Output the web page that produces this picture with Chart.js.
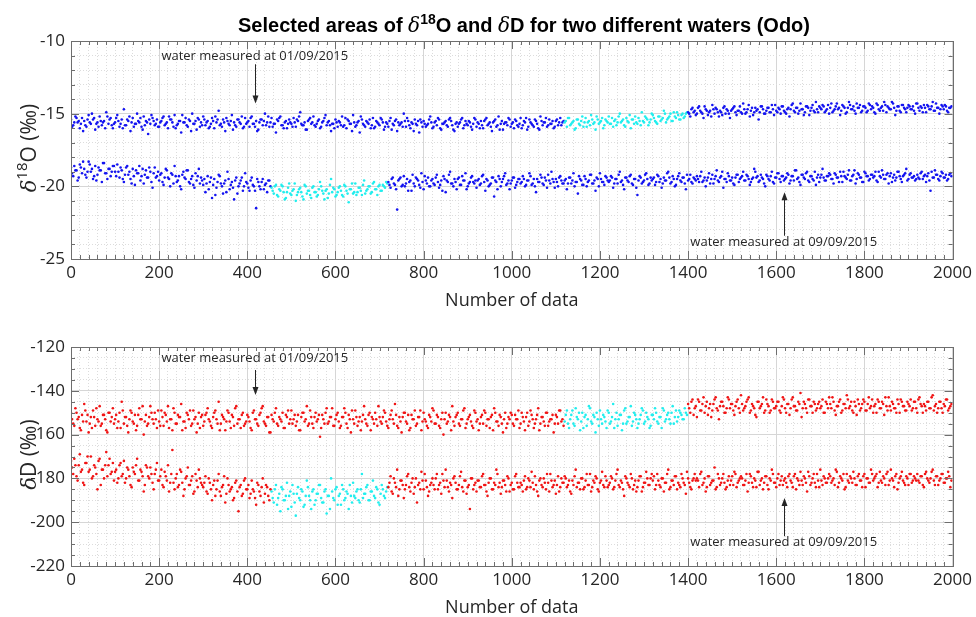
<!DOCTYPE html>
<html>
<head>
<meta charset="utf-8">
<title>Selected areas of d18O and dD (Odo)</title>
<script src="https://cdn.jsdelivr.net/npm/chart.js@4.4.1/dist/chart.umd.min.js"></script>
<style>
  body { margin: 0; background: #fff; }
  #wrap { position: relative; width: 976px; height: 617px; }
  canvas { position: absolute; left: 0; }
  #top { top: 0; }
  #bottom { top: 310px; }
</style>
</head>
<body>
<div id="wrap">
  <canvas id="top" width="976" height="310"></canvas>
  <canvas id="bottom" width="976" height="307"></canvas>
</div>
<script>
// each array holds one sample every 5 records; the second pass is shifted by 2.5
const dataStep = 5;
const secondPassOffset = 2.5;

const xTickLabels = [0, 200, 400, 600, 800, 1000, 1200, 1400, 1600, 1800, 2000];
const o18TickLabels = [-25, -20, -15, -10];
const dDTickLabels = [-220, -200, -180, -160, -140, -120];

// x ranges drawn in cyan (selected areas)
const water1Selected = [1120, 1400];
const water2Selected = [455, 720];

// d18O, water measured at 01/09/2015
const o18Water1 = [
  -15.4,-15.8,-15.2,-15.6,-16.0,-15.3,-15.5,-15.9,-15.1,-15.7,-15.4,-16.1,-15.6,-15.2,-15.8,-15.5,-14.9,-15.7,-15.3,-16.0,
  -15.6,-15.1,-15.9,-15.4,-14.7,-15.8,-15.5,-16.2,-15.3,-15.7,-15.0,-15.6,-15.9,-15.2,-15.5,-16.4,-15.7,-15.3,-15.8,-15.4,
  -15.9,-15.5,-15.2,-15.7,-16.0,-15.4,-15.6,-15.1,-15.8,-15.5,-16.3,-15.6,-15.3,-15.9,-15.5,-15.0,-15.7,-16.1,-15.4,-15.6,
  -15.2,-15.8,-15.5,-15.9,-15.3,-16.0,-15.6,-14.8,-15.7,-15.4,-16.2,-15.5,-15.8,-15.1,-15.6,-15.9,-15.4,-15.7,-16.0,-15.3,
  -15.6,-15.9,-15.2,-15.7,-15.5,-16.1,-15.4,-15.8,-15.0,-15.6,-15.9,-15.3,-15.7,-16.3,-15.5,-15.2,-15.8,-15.6,-16.0,-15.4,
  -15.7,-15.3,-15.9,-15.5,-14.9,-15.8,-15.6,-16.1,-15.4,-15.7,-15.2,-15.9,-15.5,-16.0,-15.6,-15.3,-15.8,-15.5,-16.2,-15.7,
  -15.4,-15.9,-15.6,-15.2,-15.8,-16.0,-15.5,-15.7,-15.1,-15.9,-15.6,-16.3,-15.4,-15.8,-15.5,-15.7,-16.0,-15.3,-15.9,-15.6,
  -15.8,-15.4,-16.1,-15.6,-15.9,-15.3,-15.7,-15.5,-16.2,-15.8,-15.6,-15.0,-15.9,-15.5,-16.0,-15.7,-15.4,-15.8,-16.3,-15.6,
  -15.5,-15.9,-15.7,-15.2,-16.0,-15.6,-15.8,-15.4,-16.1,-15.7,-15.5,-15.9,-15.3,-15.8,-16.2,-15.6,-15.7,-15.4,-16.0,-15.5,
  -15.8,-15.6,-16.1,-15.3,-15.9,-15.7,-15.5,-16.0,-15.4,-15.8,-15.6,-16.2,-15.5,-15.9,-15.2,-15.7,-16.1,-15.6,-15.8,-15.4,
  -15.7,-16.0,-15.5,-15.9,-15.3,-15.8,-15.6,-16.1,-15.4,-15.7,-15.9,-15.5,-16.0,-15.2,-15.8,-15.6,-15.9,-15.4,-15.7,-16.0,-15.5,-15.8,-15.3,-15.6,
  -15.6,-15.9,-15.3,-15.7,-15.5,-16.0,-15.4,-15.8,-15.2,-15.6,-15.9,-15.5,-15.1,-15.7,-16.1,-15.4,-15.6,-15.3,-15.8,-15.5,
  -15.2,-15.7,-15.9,-15.4,-15.6,-15.0,-15.5,-15.8,-15.3,-15.6,-16.0,-15.4,-15.2,-15.7,-15.5,-14.9,-15.6,-15.3,-15.8,-15.4,
  -15.1,-15.5,-15.7,-15.2,-15.4,-14.8,-15.6,-15.3,-15.0,-15.5,-15.2,-14.9,-15.4,-15.1,-15.3,-15.0,
  -14.9,-15.2,-14.6,-14.8,-15.0,-14.5,-14.9,-15.3,-14.7,-15.1,-14.8,-14.4,-15.0,-14.7,-15.2,-14.9,-14.6,-15.0,-14.8,-15.3,
  -14.7,-14.5,-15.1,-14.8,-14.9,-14.3,-15.0,-14.7,-15.2,-14.6,-14.9,-14.8,-15.4,-14.5,-14.7,-15.0,-14.6,-14.9,-14.4,-15.1,
  -14.8,-14.6,-15.0,-14.5,-14.9,-14.7,-15.2,-14.4,-14.8,-14.6,-15.0,-14.3,-14.7,-14.9,-14.5,-15.1,-14.6,-14.8,-14.2,-14.9,
  -14.6,-14.4,-14.9,-14.7,-15.0,-14.3,-14.8,-14.5,-14.7,-15.1,-14.4,-14.6,-14.9,-14.2,-14.7,-14.5,-15.0,-14.6,-14.4,-14.8,
  -14.5,-14.9,-14.3,-14.7,-14.6,-15.0,-14.4,-14.8,-14.5,-14.2,-14.9,-14.6,-14.7,-14.3,-15.1,-14.5,-14.8,-14.4,-14.6,-14.9,
  -14.4,-14.7,-14.5,-15.0,-14.3,-14.8,-14.6,-14.4,-14.9,-14.5,-14.7,-14.2,-14.8,-14.6,-15.0,-14.4,-14.7,-14.5,-14.9,-14.6
];
const o18Water1b = [
  -15.9,-15.6,-15.3,-15.5,-15.7,-16.2,-15.8,-15.4,-15.6,-15.0,-15.3,-15.7,-15.9,-15.5,-15.6,-16.0,-15.2,-15.4,-15.8,-15.7,
  -15.3,-15.5,-15.7,-16.0,-15.8,-15.4,-15.2,-15.6,-15.9,-15.7,-15.5,-15.3,-16.1,-15.8,-15.6,-15.4,-15.1,-15.5,-15.7,-15.9,
  -15.6,-15.3,-15.8,-15.6,-15.2,-15.4,-15.9,-16.0,-15.7,-15.5,-15.1,-15.6,-15.8,-15.4,-16.2,-15.7,-15.5,-15.3,-15.9,-15.8,
  -15.4,-15.6,-16.0,-15.7,-15.5,-15.2,-15.4,-15.8,-15.9,-15.6,-15.3,-15.7,-15.5,-16.1,-15.8,-15.4,-15.6,-15.2,-15.9,-15.7,
  -15.5,-15.3,-15.7,-15.9,-16.2,-15.6,-15.4,-15.5,-15.8,-15.2,-15.6,-15.9,-15.7,-15.4,-15.3,-15.8,-16.0,-15.5,-15.7,-15.6,
  -15.9,-15.6,-15.4,-15.2,-15.7,-15.8,-16.1,-15.5,-15.3,-15.6,-15.8,-15.7,-15.4,-15.9,-15.5,-15.1,-15.6,-15.8,-15.7,-16.0,
  -15.6,-15.5,-15.8,-15.9,-15.3,-15.4,-15.7,-16.2,-15.6,-15.8,-15.5,-15.2,-15.7,-15.9,-15.6,-15.4,-15.8,-16.0,-15.5,-15.7,
  -15.3,-15.6,-15.9,-15.7,-15.5,-16.1,-15.8,-15.4,-15.6,-15.7,-15.9,-15.5,-15.3,-15.8,-15.6,-16.2,-15.7,-15.5,-15.4,-15.9,
  -15.7,-15.8,-15.4,-15.6,-15.9,-15.5,-15.3,-16.0,-15.7,-15.6,-15.8,-15.4,-15.5,-16.1,-15.7,-15.9,-15.6,-15.3,-15.8,-15.7,
  -15.5,-15.9,-15.7,-15.4,-15.6,-16.0,-15.8,-15.5,-15.3,-15.7,-15.9,-15.6,-15.4,-15.8,-16.1,-15.5,-15.7,-15.6,-15.3,-15.9,
  -15.6,-15.4,-15.8,-15.7,-16.0,-15.5,-15.3,-15.9,-15.6,-15.8,-15.4,-15.7,-16.1,-15.5,-15.6,-15.3,-15.8,-15.7,-15.5,-15.9,-15.4,-15.6,-15.8,-15.5,
  -15.5,-15.3,-15.8,-15.6,-16.1,-15.4,-15.7,-15.5,-15.9,-15.3,-15.6,-15.8,-15.4,-15.6,-15.2,-15.7,-15.5,-16.0,-15.4,-15.6,
  -15.7,-15.3,-15.5,-15.8,-15.2,-15.6,-15.4,-15.9,-15.5,-15.1,-15.4,-15.7,-15.6,-15.3,-15.8,-15.5,-15.2,-15.4,-15.6,-15.0,
  -15.3,-15.6,-15.2,-15.5,-15.3,-15.0,-15.4,-15.2,-15.5,-14.9,-15.3,-15.1,-15.4,-15.0,-15.2,-14.9,
  -15.0,-14.7,-14.9,-15.1,-14.6,-14.8,-15.0,-14.5,-14.8,-14.9,-15.2,-14.7,-14.6,-14.9,-14.8,-15.1,-14.5,-14.7,-15.0,-14.8,
  -14.6,-14.9,-14.8,-14.5,-15.0,-14.7,-14.9,-14.4,-14.8,-15.1,-14.6,-14.7,-14.9,-14.5,-15.0,-14.8,-14.6,-14.9,-14.7,-14.4,
  -14.9,-14.7,-14.5,-14.8,-15.0,-14.6,-14.7,-14.3,-14.9,-14.6,-14.8,-14.7,-15.1,-14.5,-14.6,-14.8,-14.4,-14.9,-14.7,-14.5,
  -14.7,-14.5,-14.8,-14.4,-14.6,-14.9,-14.7,-14.3,-14.6,-14.8,-14.5,-15.0,-14.6,-14.4,-14.7,-14.8,-14.3,-14.6,-14.9,-14.5,
  -14.6,-14.8,-14.4,-14.5,-14.9,-14.3,-14.7,-14.6,-14.8,-14.4,-14.5,-14.7,-14.2,-14.6,-14.8,-14.5,-14.9,-14.4,-14.7,-14.6,
  -14.5,-14.7,-14.8,-14.3,-14.6,-14.5,-14.9,-14.6,-14.4,-14.7,-14.5,-14.8,-14.3,-14.6,-14.7,-14.5,-14.4,-14.8,-14.6,-14.5
];

// d18O, water measured at 09/09/2015
const o18Water2 = [
  -18.7,-19.3,-18.9,-19.6,-18.5,-19.1,-18.8,-19.4,-18.3,-19.0,-19.5,-18.6,-19.2,-18.9,-19.7,-18.4,-19.1,-18.8,-19.3,-18.6,
  -19.0,-18.5,-19.4,-18.9,-19.7,-18.7,-19.2,-19.5,-18.8,-19.9,-19.1,-18.6,-19.3,-19.8,-18.9,-19.4,-19.0,-20.1,-18.7,-19.3,
  -19.6,-19.1,-19.9,-18.8,-19.4,-20.0,-19.2,-18.6,-19.7,-19.3,-20.2,-19.0,-19.5,-18.9,-19.8,-19.3,-20.1,-19.6,-18.8,-19.4,
  -19.9,-20.4,-19.3,-19.7,-20.8,-19.5,-20.1,-19.2,-19.8,-20.5,-19.6,-19.0,-20.2,-19.7,-20.9,-19.4,-20.0,-19.6,-20.3,-19.1,
  -19.8,-20.3,-19.4,-20.0,-21.5,-19.7,-20.2,-19.5,-19.9,-20.4,-19.6,
  -20.1,-20.5,-19.9,-20.7,-20.3,-20.0,-20.9,-20.4,-19.8,-20.6,-20.2,-21.0,-20.4,-20.1,-20.7,-19.9,-20.5,-20.3,-20.8,-20.0,
  -20.4,-20.6,-19.7,-20.3,-20.9,-20.2,-20.5,-19.5,-20.1,-20.7,-20.4,-20.0,-20.6,-19.9,-20.3,-21.1,-20.2,-20.5,-19.8,-20.4,
  -20.1,-20.6,-19.6,-20.3,-20.0,-20.5,-19.8,-20.2,-20.6,-19.9,-20.3,-20.0,-19.7,
  -19.7,-20.1,-19.4,-19.9,-21.6,-19.5,-20.0,-19.3,-19.8,-20.3,-19.6,-19.2,-20.0,-19.5,-19.9,-19.1,-20.2,-19.6,-19.4,-20.0,
  -19.5,-19.9,-19.2,-20.1,-19.6,-19.3,-20.4,-19.7,-19.0,-19.8,-19.5,-20.2,-19.4,-19.9,-19.6,-19.1,-20.0,-19.7,-19.3,-19.8,
  -20.1,-19.5,-19.8,-19.2,-20.3,-19.6,-19.9,-19.4,-20.7,-19.7,-19.3,-20.0,-19.5,-19.1,-19.8,-20.2,-19.6,-19.4,-19.9,-19.5,
  -19.8,-19.3,-20.0,-19.6,-19.1,-19.9,-19.5,-20.4,-19.7,-19.2,-19.8,-19.4,-20.1,-19.6,-19.0,-19.7,-19.5,-20.0,-19.3,-19.8,
  -19.6,-20.2,-19.4,-19.8,-19.1,-19.7,-20.5,-19.5,-19.9,-19.3,-20.0,-19.6,-19.2,-19.8,-20.3,-19.5,-19.1,-19.7,-19.9,-19.4,
  -19.7,-19.3,-20.1,-19.5,-19.8,-19.0,-19.6,-20.2,-19.4,-19.7,-19.2,-19.9,-19.5,-20.6,-19.3,-19.8,-19.6,-19.1,-19.9,-19.4,
  -19.5,-19.9,-19.2,-19.7,-20.1,-19.4,-19.6,-19.0,-19.8,-19.3,-20.0,-19.5,-19.1,-19.7,-19.4,-20.2,-19.6,-19.2,-19.8,-19.5,
  -19.3,-19.7,-19.0,-19.6,-20.0,-19.4,-19.8,-19.2,-19.5,-18.9,-19.7,-19.3,-20.1,-19.5,-19.1,-19.6,-19.4,-19.9,-19.2,-19.7,
  -19.4,-19.0,-19.6,-19.3,-19.9,-19.5,-18.8,-19.4,-19.7,-19.2,-19.5,-20.0,-19.3,-19.6,-19.0,-19.8,-19.4,-19.1,-19.7,-19.3,
  -19.5,-19.1,-19.8,-19.3,-19.6,-18.9,-19.4,-19.9,-19.2,-19.5,-19.0,-19.7,-19.3,-19.6,-19.9,-19.2,-19.4,-18.8,-19.6,-19.3,
  -19.1,-19.5,-19.8,-19.2,-19.4,-19.0,-19.7,-19.3,-19.5,-18.9,-19.6,-19.2,-19.8,-19.1,-19.4,-19.7,-19.0,-19.3,-19.6,-19.2,
  -19.4,-19.0,-19.7,-19.3,-18.9,-19.5,-19.2,-19.8,-19.1,-19.4,-19.6,-19.0,-19.3,-19.7,-19.2,-18.8,-19.5,-19.1,-19.4,-19.6,
  -19.2,-19.5,-19.0,-19.3,-19.7,-19.1,-20.3,-19.4,-18.9,-19.2,-19.6,-19.0,-19.4,-19.2,-19.5,-19.1
];
const o18Water2b = [
  -19.1,-18.6,-18.9,-19.4,-18.7,-18.3,-19.2,-19.0,-18.5,-18.8,-19.3,-19.6,-18.7,-18.9,-18.4,-19.1,-19.5,-18.8,-19.0,-18.6,
  -19.3,-19.0,-18.7,-19.5,-19.2,-18.6,-19.0,-19.8,-19.3,-18.9,-19.1,-19.6,-18.8,-19.2,-19.4,-18.7,-19.7,-19.1,-19.4,-19.0,
  -19.2,-19.7,-19.4,-18.9,-19.5,-19.1,-19.8,-19.3,-19.6,-20.0,-19.2,-19.4,-18.9,-19.7,-19.5,-19.9,-19.1,-19.3,-19.8,-19.6,
  -19.5,-19.8,-20.2,-19.4,-19.9,-20.6,-19.7,-19.3,-20.0,-19.8,-20.4,-19.5,-19.9,-20.1,-19.6,-20.5,-19.8,-19.4,-20.0,-19.7,
  -20.1,-19.6,-19.9,-20.3,-19.5,-20.0,-19.7,-20.2,-19.8,-19.6,-20.0,
  -20.3,-20.0,-20.6,-20.2,-19.9,-20.4,-20.8,-20.1,-20.5,-20.3,-19.8,-20.6,-20.2,-20.4,-20.9,-20.0,-20.3,-20.6,-20.1,-20.4,
  -20.7,-20.2,-20.0,-20.5,-20.3,-20.8,-19.9,-20.4,-20.2,-20.6,-20.1,-20.3,-20.7,-20.0,-20.5,-20.2,-19.8,-20.4,-20.6,-20.1,
  -20.3,-19.9,-20.5,-20.2,-20.0,-20.4,-19.7,-20.2,-20.0,-20.3,-19.9,-20.1,-19.8,
  -19.9,-19.5,-19.8,-20.2,-19.6,-19.4,-19.9,-20.0,-19.5,-19.7,-20.3,-19.8,-19.4,-19.6,-20.1,-19.7,-19.3,-19.8,-20.0,-19.6,
  -19.8,-19.4,-19.7,-19.9,-20.3,-19.5,-19.6,-19.2,-19.8,-20.0,-19.7,-19.5,-19.9,-19.3,-19.6,-20.2,-19.8,-19.4,-19.7,-19.6,
  -19.6,-19.9,-19.3,-19.7,-19.5,-20.0,-19.8,-19.4,-19.6,-20.2,-19.5,-19.7,-19.3,-19.9,-19.6,-19.8,-19.4,-20.1,-19.7,-19.5,
  -19.7,-19.5,-19.9,-19.6,-19.3,-19.8,-20.0,-19.5,-19.7,-19.4,-19.9,-19.6,-19.2,-19.8,-19.5,-20.1,-19.7,-19.4,-19.6,-19.8,
  -19.5,-19.8,-19.4,-19.6,-20.0,-19.7,-19.3,-19.6,-19.9,-19.5,-19.7,-19.2,-19.8,-19.6,-19.4,-20.0,-19.5,-19.7,-19.3,-19.6,
  -19.6,-19.4,-19.8,-19.5,-19.2,-19.7,-19.9,-19.4,-19.6,-19.3,-19.8,-19.5,-20.1,-19.6,-19.4,-19.7,-19.2,-19.5,-19.8,-19.6,
  -19.4,-19.7,-19.3,-19.5,-19.8,-19.6,-19.1,-19.4,-19.7,-19.5,-19.9,-19.3,-19.6,-19.4,-19.8,-19.2,-19.5,-19.7,-19.4,-19.6,
  -19.5,-19.3,-19.7,-19.4,-19.6,-19.1,-19.5,-19.8,-19.3,-19.6,-19.4,-19.0,-19.5,-19.7,-19.3,-19.6,-19.8,-19.4,-19.2,-19.5,
  -19.3,-19.6,-19.2,-19.5,-19.7,-19.4,-19.0,-19.3,-19.6,-19.4,-19.8,-19.2,-19.5,-19.3,-19.7,-19.4,-19.1,-19.5,-19.3,-19.6,
  -19.4,-19.2,-19.6,-19.3,-18.9,-19.5,-19.7,-19.2,-19.4,-19.1,-19.6,-19.3,-19.5,-19.0,-19.4,-19.7,-19.2,-19.4,-19.6,-19.3,
  -19.2,-19.5,-19.1,-19.4,-19.7,-19.3,-19.0,-19.4,-19.2,-19.6,-19.3,-18.9,-19.5,-19.2,-19.4,-19.7,-19.1,-19.3,-19.5,-19.2,
  -19.3,-19.6,-19.0,-19.4,-19.2,-19.5,-19.1,-19.3,-19.7,-19.2,-19.4,-19.0,-19.5,-19.3,-19.1,-19.6,-19.2,-19.4,-19.3,-19.5,
  -19.4,-19.1,-19.5,-19.2,-19.3,-19.6,-19.0,-19.4,-19.2,-19.5,-19.3,-19.1,-19.4,-19.6,-19.2,-19.3
];

// dD, water measured at 01/09/2015
const dDWater1 = [
  -150,-155,-148,-153,-157,-151,-146,-154,-159,-152,-149,-156,-153,-147,-155,-151,-158,-150,-154,-148,
  -153,-157,-150,-145,-155,-152,-159,-149,-154,-151,-156,-148,-153,-160,-151,-155,-147,-153,-150,-157,
  -154,-149,-156,-151,-147,-153,-158,-150,-155,-152,-146,-154,-157,-151,-149,-155,-153,-159,-150,-152,
  -156,-151,-148,-154,-157,-150,-153,-145,-155,-152,-158,-149,-154,-151,-156,-147,-153,-157,-150,-155,
  -151,-154,-158,-149,-153,-156,-150,-147,-155,-152,-159,-151,-154,-148,-156,-153,-150,-157,-152,-155,
  -149,-153,-156,-151,-158,-150,-154,-147,-155,-152,-157,-150,-153,-161,-151,-155,-148,-154,-152,-156,
  -153,-150,-157,-152,-148,-155,-151,-159,-153,-149,-156,-152,-154,-147,-155,-151,-158,-153,-150,-156,
  -152,-155,-149,-154,-157,-151,-153,-146,-156,-152,-159,-150,-154,-151,-157,-153,-149,-155,-152,-158,
  -150,-154,-157,-152,-148,-155,-151,-156,-153,-160,-150,-154,-152,-147,-156,-151,-155,-153,-149,-157,
  -153,-151,-156,-149,-154,-158,-152,-155,-150,-153,-157,-151,-148,-154,-156,-152,-159,-150,-155,-153,
  -151,-156,-153,-149,-155,-152,-158,-150,-154,-151,-157,-153,-148,-155,-152,-156,-150,-154,-153,-159,-151,-155,-149,-153,
  -154,-149,-157,-151,-155,-148,-153,-158,-150,-152,-156,-147,-154,-151,-159,-153,-149,-155,-152,-157,
  -150,-154,-146,-153,-156,-151,-158,-149,-155,-152,-147,-154,-151,-157,-153,-148,-155,-150,-153,-156,
  -151,-148,-154,-152,-157,-149,-153,-150,-155,-147,-152,-154,-149,-151,-153,-150,
  -146,-150,-144,-148,-152,-145,-149,-143,-147,-151,-146,-149,-144,-148,-153,-145,-147,-150,-143,-148,
  -146,-151,-145,-148,-142,-149,-147,-144,-150,-146,-148,-152,-145,-147,-143,-149,-146,-150,-144,-148,
  -147,-145,-150,-143,-148,-146,-151,-144,-147,-149,-145,-141,-148,-146,-150,-144,-147,-145,-149,-146,
  -148,-144,-150,-146,-143,-148,-145,-151,-147,-144,-149,-146,-142,-148,-145,-150,-147,-144,-149,-146,
  -145,-149,-143,-147,-150,-146,-144,-148,-145,-151,-147,-143,-149,-146,-148,-144,-150,-145,-147,-149,
  -146,-144,-148,-145,-150,-143,-147,-146,-149,-145,-148,-142,-147,-150,-145,-148,-146,-144,-149,-147
];
const dDWater1b = [
  -153,-156,-150,-152,-158,-154,-149,-151,-155,-157,-152,-148,-154,-156,-151,-153,-159,-150,-152,-155,
  -151,-154,-157,-149,-152,-156,-153,-150,-155,-158,-151,-153,-147,-154,-156,-152,-150,-155,-153,-149,
  -156,-152,-150,-154,-157,-153,-148,-155,-151,-152,-158,-154,-150,-153,-156,-149,-152,-155,-157,-151,
  -154,-150,-153,-156,-152,-149,-155,-158,-151,-153,-154,-150,-157,-152,-148,-155,-153,-151,-156,-154,
  -152,-157,-150,-153,-155,-151,-148,-154,-156,-152,-159,-153,-150,-155,-152,-154,-157,-151,-149,-153,
  -155,-151,-154,-158,-152,-150,-153,-156,-149,-155,-152,-154,-151,-157,-153,-150,-155,-152,-148,-156,
  -151,-154,-156,-152,-150,-157,-153,-149,-155,-152,-154,-158,-151,-153,-156,-150,-152,-155,-153,-147,
  -154,-152,-150,-156,-153,-149,-155,-151,-157,-154,-152,-150,-155,-158,-151,-153,-156,-152,-149,-154,
  -153,-156,-151,-154,-149,-155,-152,-157,-150,-153,-155,-151,-158,-154,-152,-150,-156,-153,-148,-155,
  -152,-154,-157,-150,-153,-155,-151,-149,-156,-153,-152,-158,-150,-154,-151,-155,-153,-157,-152,-150,
  -155,-151,-153,-157,-150,-154,-152,-156,-149,-153,-155,-151,-158,-152,-154,-150,-156,-153,-151,-155,-152,-149,-154,-156,
  -151,-155,-153,-149,-156,-152,-150,-154,-157,-151,-153,-148,-155,-152,-150,-156,-153,-151,-154,-149,
  -155,-152,-157,-150,-153,-151,-155,-148,-154,-152,-156,-150,-153,-155,-151,-149,-154,-152,-157,-151,
  -153,-150,-155,-152,-148,-154,-151,-153,-150,-155,-149,-152,-150,-153,-148,-151,
  -148,-145,-151,-147,-144,-149,-146,-150,-145,-148,-152,-146,-143,-149,-147,-145,-150,-148,-144,-146,
  -149,-147,-144,-150,-146,-148,-145,-143,-149,-147,-151,-145,-148,-146,-150,-144,-147,-149,-145,-148,
  -145,-149,-147,-144,-150,-146,-148,-143,-147,-149,-146,-152,-145,-148,-144,-147,-150,-146,-148,-145,
  -147,-150,-145,-148,-146,-143,-149,-147,-145,-150,-146,-148,-144,-147,-149,-145,-151,-146,-148,-144,
  -149,-146,-148,-144,-147,-150,-145,-148,-146,-143,-149,-147,-145,-148,-150,-146,-144,-147,-149,-145,
  -147,-149,-145,-148,-144,-146,-150,-147,-145,-148,-143,-149,-146,-148,-145,-150,-147,-144,-148,-146
];

// dD, water measured at 09/09/2015
const dDWater2 = [
  -172,-178,-174,-181,-169,-176,-183,-173,-177,-170,-179,-175,-185,-171,-176,-180,-168,-174,-178,-173,
  -177,-182,-174,-179,-172,-180,-176,-183,-175,-178,-171,-181,-177,-186,-174,-179,-175,-182,-178,-173,
  -181,-176,-184,-179,-174,-182,-167,-185,-178,-183,-177,-188,-180,-175,-183,-179,-186,-181,-176,-182,
  -184,-179,-187,-182,-190,-181,-185,-178,-188,-183,-191,-180,-186,-184,-189,-181,-195,-183,-187,-180,
  -185,-189,-181,-186,-192,-183,-188,-180,-187,-184,-190,
  -186,-191,-183,-189,-195,-185,-190,-182,-188,-193,-187,-197,-184,-190,-186,-192,-181,-188,-194,-185,
  -190,-187,-183,-191,-186,-196,-188,-180,-189,-185,-192,-187,-183,-190,-186,-194,-188,-182,-189,-185,
  -191,-178,-187,-184,-190,-186,-181,-189,-185,-192,-183,-188,-186,
  -184,-179,-187,-182,-176,-185,-181,-189,-183,-178,-186,-180,-184,-191,-182,-177,-185,-181,-188,-183,
  -180,-185,-178,-183,-187,-181,-176,-184,-182,-189,-179,-185,-183,-177,-186,-181,-184,-194,-180,-183,
  -186,-181,-184,-178,-183,-188,-180,-185,-182,-176,-184,-187,-181,-183,-179,-186,-182,-185,-178,-184,
  -182,-186,-179,-184,-181,-177,-185,-183,-188,-180,-184,-182,-178,-186,-181,-183,-187,-179,-184,-182,
  -179,-184,-181,-187,-183,-176,-182,-185,-180,-184,-178,-183,-186,-181,-179,-185,-182,-177,-184,-181,
  -183,-179,-185,-181,-176,-184,-182,-188,-180,-183,-178,-185,-181,-184,-179,-186,-182,-177,-183,-180,
  -181,-185,-178,-183,-180,-186,-182,-176,-184,-181,-179,-185,-183,-178,-182,-187,-180,-184,-181,-178,
  -180,-184,-177,-182,-186,-179,-183,-181,-175,-184,-180,-182,-178,-185,-181,-183,-179,-177,-184,-181,
  -179,-183,-181,-186,-178,-182,-180,-184,-177,-181,-185,-179,-183,-180,-176,-182,-184,-178,-181,-183,
  -180,-184,-178,-182,-179,-185,-181,-177,-183,-180,-186,-179,-182,-178,-184,-181,-176,-183,-180,-182,
  -178,-182,-180,-176,-184,-179,-181,-185,-178,-182,-180,-177,-183,-179,-181,-184,-178,-180,-182,-176,
  -181,-179,-184,-177,-182,-180,-178,-183,-176,-181,-179,-185,-180,-177,-182,-179,-183,-178,-181,-180,
  -178,-182,-179,-184,-177,-181,-180,-176,-183,-179,-181,-178,-182,-180,-177,-184
];
const dDWater2b = [
  -175,-171,-179,-174,-177,-182,-173,-170,-176,-180,-174,-178,-172,-183,-176,-174,-179,-171,-177,-181,
  -176,-180,-173,-178,-182,-175,-179,-184,-177,-174,-181,-176,-179,-183,-175,-180,-178,-185,-176,-181,
  -179,-183,-177,-181,-186,-178,-182,-180,-184,-176,-182,-185,-179,-183,-181,-187,-178,-184,-180,-183,
  -182,-186,-180,-185,-183,-188,-181,-186,-184,-179,-187,-183,-185,-190,-182,-186,-184,-188,-181,-185,
  -183,-187,-185,-189,-182,-186,-184,-191,-183,-188,-185,
  -189,-185,-192,-187,-184,-190,-188,-194,-186,-183,-191,-187,-189,-185,-193,-188,-184,-190,-186,-192,
  -187,-183,-189,-191,-185,-188,-194,-186,-190,-184,-188,-192,-185,-189,-187,-183,-191,-188,-186,-190,
  -185,-189,-187,-183,-190,-186,-188,-184,-191,-187,-185,-189,-184,
  -182,-186,-180,-184,-188,-181,-183,-185,-179,-184,-182,-187,-180,-183,-185,-181,-178,-184,-186,-182,
  -183,-180,-185,-182,-178,-184,-181,-186,-183,-180,-182,-185,-179,-184,-181,-187,-183,-180,-185,-182,
  -181,-184,-179,-183,-186,-182,-180,-185,-183,-178,-182,-184,-181,-186,-180,-183,-185,-179,-182,-184,
  -183,-181,-185,-180,-184,-182,-179,-186,-181,-183,-180,-185,-182,-178,-184,-181,-183,-186,-180,-182,
  -180,-183,-186,-181,-179,-184,-182,-180,-185,-181,-183,-178,-184,-182,-180,-186,-181,-183,-179,-184,
  -182,-180,-184,-178,-183,-181,-185,-179,-182,-184,-180,-183,-186,-181,-179,-184,-182,-180,-183,-178,
  -179,-183,-181,-184,-180,-182,-178,-185,-181,-183,-179,-182,-184,-180,-183,-177,-182,-185,-180,-181,
  -181,-178,-183,-180,-184,-179,-182,-181,-185,-178,-183,-180,-182,-184,-179,-181,-183,-178,-182,-180,
  -180,-183,-178,-182,-179,-184,-181,-177,-183,-180,-182,-179,-185,-181,-178,-182,-180,-183,-179,-181,
  -182,-179,-181,-184,-178,-180,-183,-181,-179,-182,-177,-183,-180,-182,-178,-184,-181,-179,-182,-180,
  -179,-181,-183,-177,-182,-180,-178,-184,-181,-179,-182,-180,-183,-178,-181,-179,-184,-180,-182,-178,
  -180,-178,-182,-181,-179,-183,-177,-181,-180,-184,-178,-182,-179,-181,-183,-180,-178,-182,-179,-181,
  -181,-179,-183,-178,-180,-182,-177,-181,-179,-183,-180,-178,-182,-180,-179,-181
];

const BLUE = '#1414f0';
const RED = '#f01414';
const CYAN = '#22eeee';
const INK = '#262626';
const AXIS = '#6e6e6e';
const TICK_FONT = { family: '"Open Sans", sans-serif', size: 17 };

function series(values, offset, range, base) {
  const points = values.map((y, i) => ({ x: i * dataStep + offset, y: y }));
  return {
    data: points,
    pointBackgroundColor: points.map(p => (p.x >= range[0] && p.x < range[1]) ? CYAN : base),
    pointBorderWidth: 0,
    pointRadius: 1.3,
    showLine: false
  };
}

// text made of pieces so the superscripts and the italic delta can be set apart
function drawRich(ctx, parts, cx, baseline) {
  let width = 0;
  parts.forEach(p => { ctx.font = p.font; width += ctx.measureText(p.t).width; });
  let x = cx - width / 2;
  ctx.textAlign = 'left';
  ctx.textBaseline = 'alphabetic';
  parts.forEach(p => {
    ctx.font = p.font;
    ctx.fillText(p.t, x, baseline + (p.dy || 0));
    x += ctx.measureText(p.t).width;
  });
}

function arrow(ctx, x, y0, y1) {
  const dir = y1 > y0 ? 1 : -1;
  ctx.beginPath();
  ctx.moveTo(x, y0);
  ctx.lineTo(x, y1 - dir * 5);
  ctx.stroke();
  ctx.beginPath();
  ctx.moveTo(x, y1);
  ctx.lineTo(x - 3, y1 - dir * 8);
  ctx.lineTo(x + 3, y1 - dir * 8);
  ctx.closePath();
  ctx.fill();
}

function decorPlugin(panel) {
  return {
    id: 'decor',
    afterDraw(chart) {
      const ctx = chart.ctx;
      const area = chart.chartArea;
      const xs = chart.scales.x;
      const ys = chart.scales.y;
      ctx.save();

      // inward tick marks on all four sides
      ctx.strokeStyle = AXIS;
      ctx.lineWidth = 1;
      ctx.beginPath();
      xs.ticks.forEach(t => {
        const px = Math.round(xs.getPixelForValue(t.value)) + 0.5;
        const len = xTickLabels.includes(t.value) ? 8 : 4;
        ctx.moveTo(px, area.bottom); ctx.lineTo(px, area.bottom - len);
        ctx.moveTo(px, area.top); ctx.lineTo(px, area.top + len);
      });
      ys.ticks.forEach(t => {
        const py = Math.round(ys.getPixelForValue(t.value)) + 0.5;
        const len = panel.yLabels.includes(t.value) ? 8 : 4;
        ctx.moveTo(area.left, py); ctx.lineTo(area.left + len, py);
        ctx.moveTo(area.right, py); ctx.lineTo(area.right - len, py);
      });
      ctx.stroke();
      ctx.strokeRect(Math.round(area.left) + 0.5, Math.round(area.top) + 0.5,
        Math.round(area.right - area.left), Math.round(area.bottom - area.top));

      // notes with arrows
      ctx.fillStyle = INK;
      ctx.strokeStyle = INK;
      panel.notes.forEach(n => {
        const px = xs.getPixelForValue(n.x);
        ctx.font = '13px "Open Sans", sans-serif';
        ctx.textAlign = 'center';
        ctx.textBaseline = 'alphabetic';
        ctx.fillText(n.text, px, ys.getPixelForValue(n.textY));
        arrow(ctx, Math.round(px) + 0.5, ys.getPixelForValue(n.from), ys.getPixelForValue(n.to));
      });

      // axis titles
      ctx.fillStyle = INK;
      ctx.font = '18px "Open Sans", sans-serif';
      ctx.textAlign = 'center';
      ctx.fillText('Number of data', (area.left + area.right) / 2, area.bottom + 47);

      ctx.save();
      ctx.translate(36, (area.top + area.bottom) / 2 - 2);
      ctx.rotate(-Math.PI / 2);
      drawRich(ctx, panel.yTitle, 0, 0);
      ctx.restore();

      if (panel.title) {
        ctx.fillStyle = '#000';
        drawRich(ctx, panel.title, 524, 32);
      }
      ctx.restore();
    }
  };
}

function makePanel(canvasId, datasets, panel) {
  const isXMajor = v => xTickLabels.includes(v);
  const isYMajor = v => panel.yLabels.includes(v);
  return new Chart(document.getElementById(canvasId), {
    type: 'scatter',
    data: { datasets: datasets },
    options: {
      responsive: false,
      animation: false,
      events: [],
      layout: { padding: { left: 0, right: 23, top: panel.padTop, bottom: 0 } },
      scales: {
        x: {
          type: 'linear',
          min: 0,
          max: 2000,
          afterFit(scale) { scale.height = 51; },
          ticks: {
            stepSize: 20,
            autoSkip: false,
            maxRotation: 0,
            padding: 4,
            color: INK,
            font: TICK_FONT,
            callback: v => isXMajor(v) ? String(v) : ''
          },
          grid: {
            drawTicks: false,
            color: c => (c.tick && isXMajor(c.tick.value)) ? '#d6d6d6' : '#dcdcdc'
          },
          border: {
            display: false,
            dash: c => (c.tick && !isXMajor(c.tick.value)) ? [1, 2] : []
          }
        },
        y: {
          type: 'linear',
          min: panel.yMin,
          max: panel.yMax,
          afterFit(scale) { scale.width = 71; },
          ticks: {
            stepSize: panel.yStep,
            autoSkip: false,
            padding: 6,
            color: INK,
            font: TICK_FONT,
            callback: v => isYMajor(v) ? String(v) : ''
          },
          grid: {
            drawTicks: false,
            color: c => (c.tick && isYMajor(c.tick.value)) ? '#d6d6d6' : '#dcdcdc'
          },
          border: {
            display: false,
            dash: c => (c.tick && !isYMajor(c.tick.value)) ? [1, 2] : []
          }
        }
      },
      plugins: {
        legend: { display: false },
        tooltip: { enabled: false }
      }
    },
    plugins: [decorPlugin(panel)]
  });
}

const bold = '"Liberation Sans", Arial, sans-serif';
const titleParts = [
  { t: 'Selected areas of ', font: 'bold 20px ' + bold },
  { t: 'δ', font: 'italic 20px "DejaVu Serif", serif' },
  { t: '18', font: 'bold 14px ' + bold, dy: -8 },
  { t: 'O and ', font: 'bold 20px ' + bold },
  { t: 'δ', font: 'italic 20px "DejaVu Serif", serif' },
  { t: 'D for two different waters (Odo)', font: 'bold 20px ' + bold }
];

makePanel('top', [
  series(o18Water1, 0, water1Selected, BLUE),
  series(o18Water1b, secondPassOffset, water1Selected, BLUE),
  series(o18Water2, 0, water2Selected, BLUE),
  series(o18Water2b, secondPassOffset, water2Selected, BLUE)
], {
  padTop: 41,
  yMin: -25, yMax: -10, yStep: 1,
  yLabels: o18TickLabels,
  title: titleParts,
  yTitle: [
    { t: 'δ', font: 'italic 21px "DejaVu Serif", serif' },
    { t: '18', font: '15px "Open Sans", sans-serif', dy: -9 },
    { t: 'O (‰)', font: '21px "Open Sans", sans-serif' }
  ],
  notes: [
    { text: 'water measured at 01/09/2015', x: 417, textY: -11.3, from: -11.6, to: -14.3 },
    { text: 'water measured at 09/09/2015', x: 1617, textY: -24.1, from: -23.4, to: -20.4 }
  ]
});

makePanel('bottom', [
  series(dDWater1, 0, water1Selected, RED),
  series(dDWater1b, secondPassOffset, water1Selected, RED),
  series(dDWater2, 0, water2Selected, RED),
  series(dDWater2b, secondPassOffset, water2Selected, RED)
], {
  padTop: 37,
  yMin: -220, yMax: -120, yStep: 5,
  yLabels: dDTickLabels,
  yTitle: [
    { t: 'δ', font: 'italic 21px "DejaVu Serif", serif' },
    { t: 'D (‰)', font: '21px "Open Sans", sans-serif' }
  ],
  notes: [
    { text: 'water measured at 01/09/2015', x: 417, textY: -126.7, from: -130.5, to: -141.9 },
    { text: 'water measured at 09/09/2015', x: 1617, textY: -211, from: -206.4, to: -189 }
  ]
});
</script>
</body>
</html>
